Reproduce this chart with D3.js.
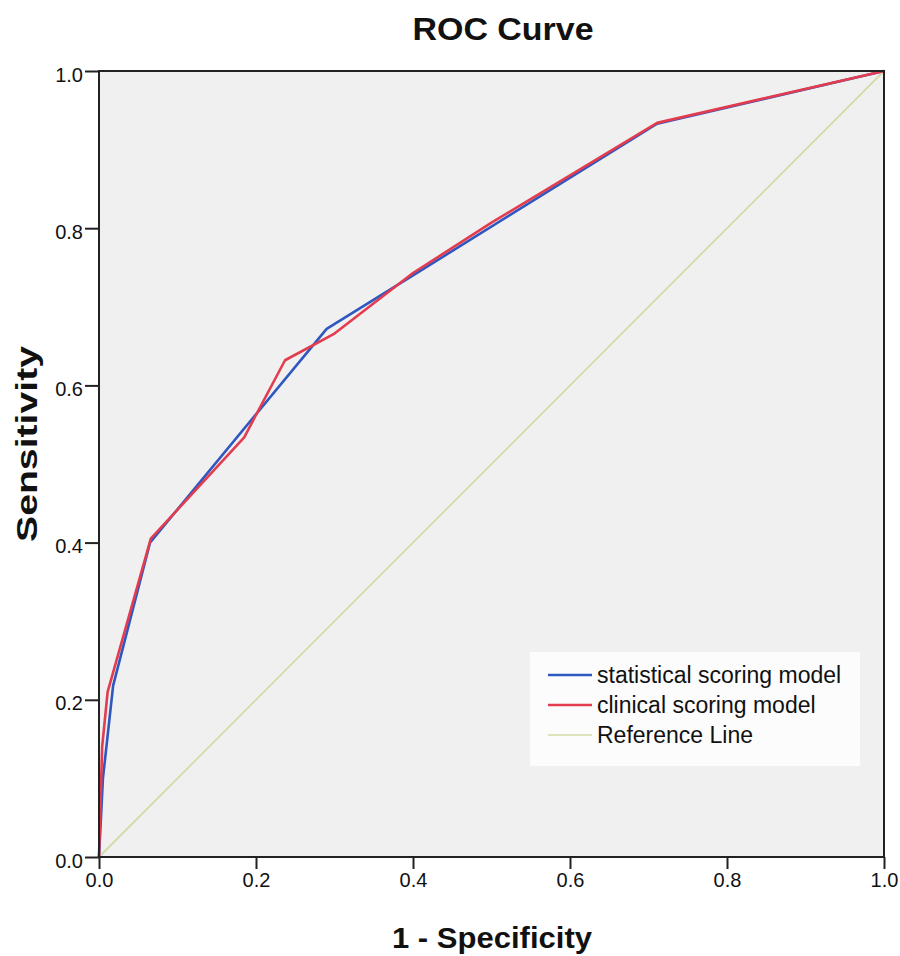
<!DOCTYPE html>
<html>
<head>
<meta charset="utf-8">
<script src="https://cdn.jsdelivr.net/npm/d3@7"></script>
<style>
  body { margin: 0; background: #fff; }
  svg { font-family: "Liberation Sans", Arial, sans-serif; }
</style>
</head>
<body>
<svg id="chart" width="900" height="956"></svg>
<script>
// ROC points: [1 - specificity, sensitivity]
const statistical = [[0, 0], [0.005, 0.10], [0.018, 0.218], [0.065, 0.40], [0.29, 0.672], [0.40, 0.74], [0.711, 0.933], [1, 1]];
const clinical = [[0, 0], [0.004, 0.14], [0.011, 0.21], [0.066, 0.405], [0.185, 0.534], [0.237, 0.632], [0.30, 0.666], [0.40, 0.743], [0.50, 0.807], [0.711, 0.934], [1, 1]];
const reference = [[0, 0], [1, 1]];
const ticks = [0, 0.2, 0.4, 0.6, 0.8, 1.0];
const legendNames = ["statistical scoring model", "clinical scoring model", "Reference Line"];
const colors = ["#2f57c0", "#e23c4e", "#d3dba6"];

const svg = d3.select("#chart");
const plotL = 99, plotR = 884, plotT = 71, plotB = 857;

const x = d3.scaleLinear().domain([0, 1]).range([plotL, plotR]);
const y = d3.scaleLinear().domain([0, 1]).range([plotB, plotT]);

svg.append("rect")
  .attr("x", plotL).attr("y", plotT)
  .attr("width", plotR - plotL).attr("height", plotB - plotT)
  .attr("fill", "#f0f0f0");

const line = d3.line().x(d => x(d[0])).y(d => y(d[1]));

svg.append("path").datum(reference)
  .attr("d", line).attr("fill", "none")
  .attr("stroke", colors[2]).attr("stroke-width", 1.8);

[statistical, clinical].forEach((s, i) => {
  svg.append("path").datum(s)
    .attr("d", line).attr("fill", "none")
    .attr("stroke", colors[i]).attr("stroke-width", 2.6)
    .attr("stroke-linejoin", "round");
});

// frame
svg.append("rect")
  .attr("x", plotL).attr("y", plotT)
  .attr("width", plotR - plotL).attr("height", plotB - plotT)
  .attr("fill", "none").attr("stroke", "#222").attr("stroke-width", 2);

const fmt = d3.format(".1f");

svg.append("g")
  .attr("transform", `translate(0,${plotB})`)
  .call(d3.axisBottom(x).tickValues(ticks).tickFormat(fmt).tickSize(12).tickPadding(4))
  .call(g => g.select(".domain").remove())
  .call(g => g.selectAll("line").attr("stroke", "#222").attr("stroke-width", 2))
  .call(g => g.selectAll("text").attr("font-size", 20).attr("fill", "#111"));

svg.append("g")
  .attr("transform", `translate(${plotL},0)`)
  .call(d3.axisLeft(y).tickValues(ticks).tickFormat(fmt).tickSize(14).tickPadding(2))
  .call(g => g.select(".domain").remove())
  .call(g => g.selectAll("line").attr("stroke", "#222").attr("stroke-width", 2))
  .call(g => g.selectAll("text").attr("font-size", 20).attr("fill", "#111").attr("dy", "0.5em"));

svg.append("text")
  .attr("x", 503).attr("y", 40)
  .attr("text-anchor", "middle")
  .attr("font-size", 32).attr("font-weight", "bold").attr("fill", "#111")
  .attr("textLength", 181).attr("lengthAdjust", "spacingAndGlyphs")
  .text("ROC Curve");

svg.append("text")
  .attr("x", 492).attr("y", 948)
  .attr("text-anchor", "middle")
  .attr("font-size", 29).attr("font-weight", "bold").attr("fill", "#111")
  .attr("textLength", 200).attr("lengthAdjust", "spacingAndGlyphs")
  .text("1 - Specificity");

svg.append("text")
  .attr("transform", "translate(37,444) rotate(-90)")
  .attr("text-anchor", "middle")
  .attr("font-size", 30).attr("font-weight", "bold").attr("fill", "#111")
  .attr("textLength", 196).attr("lengthAdjust", "spacingAndGlyphs")
  .text("Sensitivity");

// legend
const lg = svg.append("g").attr("transform", "translate(530,652)");
lg.append("rect").attr("width", 330).attr("height", 114).attr("fill", "#fcfcfc");
legendNames.forEach((name, i) => {
  const row = lg.append("g").attr("transform", `translate(0,${23 + i * 30})`);
  row.append("line").attr("x1", 18).attr("x2", 62)
    .attr("stroke", colors[i]).attr("stroke-width", i === 2 ? 1.6 : 2.4);
  row.append("text").attr("x", 67).attr("y", 8)
    .attr("font-size", 23).attr("fill", "#111").text(name);
});
</script>
</body>
</html>
